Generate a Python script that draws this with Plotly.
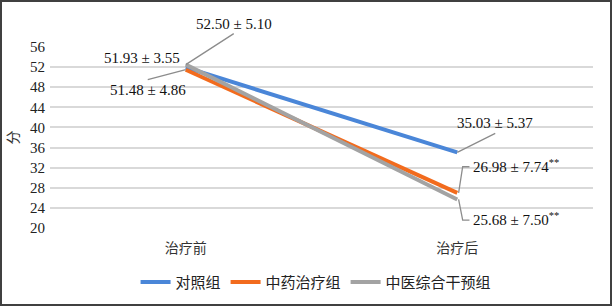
import plotly.graph_objects as go

categories = ["治疗前", "治疗后"]
series_names = ["对照组", "中药治疗组", "中医综合干预组"]
control = [51.93, 35.03]
herbal = [51.48, 26.98]
combined = [52.50, 25.68]
labels_control = ["51.93 ± 3.55", "35.03 ± 5.37"]
labels_herbal = ["51.48 ± 4.86", "26.98 ± 7.74<sup>**</sup>"]
labels_combined = ["52.50 ± 5.10", "25.68 ± 7.50<sup>**</sup>"]
y_ticks = [20, 24, 28, 32, 36, 40, 44, 48, 52, 56]

colors = ["#4A86D8", "#F26B1D", "#A3A3A3"]
serif = "Liberation Serif, Times New Roman, serif"
cjk = "Noto Sans CJK SC, sans-serif"

fig = go.Figure()
for name, vals, c in zip(series_names, [control, herbal, combined], colors):
    fig.add_trace(go.Scatter(x=categories, y=vals, mode="lines", name=name,
                             line=dict(color=c, width=4)))

lead = dict(color="#8C8C8C", width=1.3)
ann_font = dict(family=serif, size=15, color="#111")

# before: labels near the starting points
fig.add_annotation(x=categories[0], y=combined[0], text=labels_combined[0], showarrow=True,
                   arrowhead=0, arrowcolor=lead["color"], arrowwidth=1.3, ax=48, ay=-31,
                   xanchor="center", yanchor="bottom", font=ann_font, standoff=0)
fig.add_annotation(x=categories[0], y=control[0], text=labels_control[0], showarrow=False,
                   xshift=-44, yshift=9, font=ann_font)
fig.add_annotation(x=categories[0], y=herbal[0], text=labels_herbal[0], showarrow=True,
                   arrowhead=0, arrowcolor=lead["color"], arrowwidth=1.3, ax=-38, ay=10,
                   xanchor="center", yanchor="top", font=ann_font, standoff=0)

# after
fig.add_annotation(x=categories[1], y=control[1], text=labels_control[1], showarrow=True,
                   arrowhead=0, arrowcolor=lead["color"], arrowwidth=1.3, ax=38, ay=-19,
                   xanchor="center", yanchor="bottom", font=ann_font, standoff=0)

# elbow leaders for the two lower labels
for val, txt, dy in [(herbal[1], labels_herbal[1], 5.2), (combined[1], labels_combined[1], -4.1)]:
    fig.add_shape(type="path", xref="x", yref="y", line=lead,
                  path=f"M 1.005,{val} L 1.02,{val + dy} L 1.045,{val + dy}")
    fig.add_annotation(x=1.05, y=val + dy, text=txt, showarrow=False, xanchor="left",
                       yanchor="middle", font=ann_font, yshift=1)

# outer border
fig.add_shape(type="rect", xref="paper", yref="paper", x0=-49/543, x1=561/543,
              y0=-77/181, y1=1 + 46/181, line=dict(color="#404040", width=2))

fig.update_layout(
    width=614, height=307,
    margin=dict(l=50, r=21, t=47, b=79, autoexpand=False),
    paper_bgcolor="white", plot_bgcolor="white",
    showlegend=True,
    legend=dict(orientation="h", x=0.49, xanchor="center", y=-0.3, yanchor="middle",
                font=dict(family=cjk, size=15, color="#222"), itemwidth=30,
                tracegroupgap=0),
)
fig.update_xaxes(type="category", range=[-0.5, 1.5], showgrid=False, showline=False,
                 ticks="", tickfont=dict(family=cjk, size=14, color="#333"),
                 ticklabelstandoff=10, automargin=False)
fig.update_yaxes(range=[20, 56], tickvals=y_ticks, showgrid=True, gridcolor="#D9D9D9",
                 gridwidth=1.5, zeroline=False, showline=False, automargin=False,
                 tickfont=dict(family=serif, size=15, color="#222"), ticklabelstandoff=4,
                 title=dict(text="分", font=dict(family=cjk, size=14, color="#333"), standoff=8))

fig.write_html("out.html", config={"displayModeBar": False},
               post_script="document.body.style.margin='0';")
